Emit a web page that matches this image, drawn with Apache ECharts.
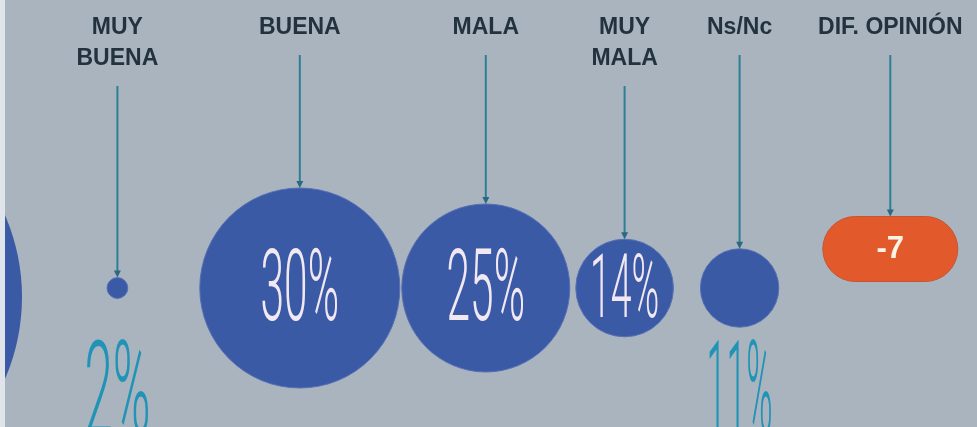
<!DOCTYPE html>
<html>
<head>
<meta charset="utf-8">
<style>
  html, body { margin: 0; padding: 0; background: #a9b4bf; }
  #chart { width: 977px; height: 427px; }
</style>
<script src="https://cdn.jsdelivr.net/npm/echarts@6/dist/echarts.min.js"></script>
</head>
<body>
<div id="chart"></div>
<script>
// datos de la encuesta
const categories = ["MUY\nBUENA", "BUENA", "MALA", "MUY\nMALA", "Ns/Nc"]
const values = [2, 30, 25, 14, 11]
const difLabels = ["DIF. OPINIÓN"]
const difValues = [-7]

// layout
const W = 977
const H = 427
const baseY = 288
const labelTop = 12
const lineH = 31
const startX = 107
const gaps = [0, 72, 2, 6, 27] // espacio entre burbujas
const pillGap = 44
const pillW = 135
const pillH = 65
const pillY = 249
const outsideTextY = 400
const outsideMaxW = 66

// radio de cada burbuja según su valor
const radius = (v) => 4 + 3.2 * v

// centros empaquetados según los radios
const centers = []
values.forEach((v, i) => {
  if (i === 0) centers.push(startX + radius(v))
  else centers.push(centers[i - 1] + radius(values[i - 1]) + gaps[i] + radius(v))
})
const last = values.length - 1
const pillX = centers[last] + radius(values[last]) + pillGap + pillW / 2

const labelFont = 'bold 23px "Liberation Sans", sans-serif'
const labelColor = "#23333d"
const stemColor = "#2c7f95"

// medir texto para condensarlo
const measureCtx = document.createElement("canvas").getContext("2d")
const textWidth = (text, font) => {
  measureCtx.font = font
  return measureCtx.measureText(text).width
}

// etiqueta + línea vertical comunes
const header = (name, cx, yEnd) => {
  const lines = name.split("\n").length
  const lineTop = labelTop + lines * lineH + 12
  return [
    {
      type: "text",
      style: {
        text: name, x: cx, y: labelTop, align: "center", verticalAlign: "top",
        font: labelFont, fill: labelColor, lineHeight: lineH,
      },
    },
    {
      type: "line",
      shape: { x1: cx, y1: lineTop, x2: cx, y2: yEnd - 4 },
      style: { stroke: stemColor, lineWidth: 2 },
    },
    {
      type: "polygon",
      shape: { points: [[cx - 3.5, yEnd - 7], [cx + 3.5, yEnd - 7], [cx, yEnd]] },
      style: { fill: "#2a6a80" },
    },
  ]
}

const renderBubble = (params, api) => {
  const i = api.value(3)
  const v = api.value(2)
  const [cx, cy] = api.coord([api.value(0), api.value(1)])
  const r = api.size([radius(v), 0])[0]
  const inside = r > 45
  const fs = inside ? Math.min(101, (r * 1.3) / 0.711) : 130
  const font = `300 ${fs}px Roboto, sans-serif`
  const text = v + "%"
  const sx = inside ? 0.42 : Math.min(0.42, outsideMaxW / textWidth(text, font))
  const children = header(categories[i], cx, cy - r)
  children.push({
    type: "circle",
    shape: { cx, cy, r },
    style: { fill: "#3b5aa6", stroke: "#5670b4", lineWidth: 1 },
  })
  children.push({
    type: "text",
    x: cx,
    y: inside ? cy + 7 : outsideTextY,
    scaleX: sx,
    style: {
      text, x: 0, y: 0, align: "center", verticalAlign: "middle",
      font, fill: inside ? "#f2e8f2" : "#2193b7",
    },
  })
  return { type: "group", children }
}

const renderPill = (params, api) => {
  const i = api.value(3)
  const [cx, cy] = api.coord([api.value(0), api.value(1)])
  const w = api.size([pillW, 0])[0]
  const children = header(difLabels[i], cx, cy - pillH / 2)
  children.push({
    type: "rect",
    shape: { x: cx - w / 2, y: cy - pillH / 2, width: w, height: pillH, r: pillH / 2 },
    style: { fill: "#e25a2c", stroke: "#c9542e", lineWidth: 1 },
  })
  children.push({
    type: "text",
    style: {
      text: String(api.value(2)), x: cx, y: cy, align: "center", verticalAlign: "middle",
      font: 'bold 31px "Liberation Sans", sans-serif', fill: "#fbf3e6",
    },
  })
  return { type: "group", children }
}

const chart = echarts.init(document.getElementById("chart"))
chart.setOption({
  backgroundColor: "#a9b4bf",
  animation: false,
  grid: { left: 0, right: 0, top: 0, bottom: 0 },
  xAxis: { type: "value", min: 0, max: W, show: false },
  yAxis: { type: "value", min: 0, max: H, inverse: true, show: false },
  graphic: [
    { type: "circle", shape: { cx: -184, cy: 297, r: 206 }, style: { fill: "#3b5aa6" }, z: -1 },
    { type: "rect", shape: { x: 0, y: 0, width: 5, height: H }, style: { fill: "#dfe5ea" }, z: -1 },
  ],
  series: [
    {
      type: "custom",
      clip: false,
      renderItem: renderBubble,
      data: values.map((v, i) => [centers[i], baseY, v, i]),
    },
    {
      type: "custom",
      clip: false,
      renderItem: renderPill,
      data: difValues.map((v, i) => [pillX, pillY, v, i]),
    },
  ],
})
</script>
</body>
</html>
